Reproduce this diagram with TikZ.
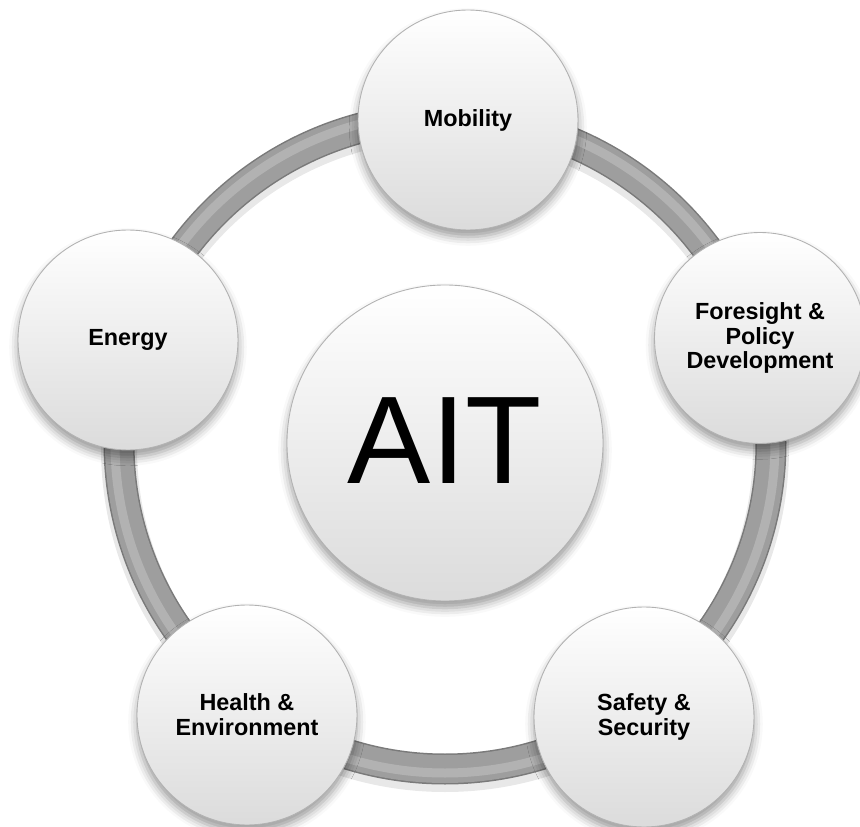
\documentclass[tikz,border=0pt]{standalone}
\usepackage{fontspec}
\setmainfont{Liberation Sans}
\usetikzlibrary{shadows.blur}
\begin{document}
\begin{tikzpicture}[
        bubble/.style={circle, minimum size=4.4cm, inner sep=0pt, align=center,
            draw=black!30, line width=0.5pt,
            top color=white, middle color=white!98!black, bottom color=black!14,
            blur shadow={shadow xshift=0pt, shadow yshift=-4pt, shadow blur radius=5pt, shadow opacity=40},
            font=\bfseries\fontsize{13.3}{14.2}\selectfont},
        hub/.style={bubble, minimum size=6.32cm, font=\fontsize{71}{71}\selectfont}]
                \useasboundingbox (-8.9,-7.68) rectangle (8.3,8.86);
                \coordinate (c) at (0,0);
                \draw [line width=0.72cm, black!9] (0,-0.1) circle (6.52);
                \draw [line width=0.62cm, black!52] (c) circle (6.52);
                \draw [line width=0.56cm, black!38] (c) circle (6.52);
                \draw [line width=0.18cm, black!30] (c) circle (6.6);
                \node [bubble] (mobility) at (0.46,6.46) {Mobility};
                \node [bubble] (energy) at (-6.34,2.06) {Energy};
                \node [bubble, minimum size=4.22cm] (foresight) at (6.3,2.1) {Foresight \&\\Policy\\Development};
                \node [bubble] (health) at (-3.96,-5.44) {Health \&\\Environment};
                \node [bubble] (safety) at (3.98,-5.48) {Safety \&\\Security};
                \node [hub] (ait) at (c) {\raisebox{0.1cm}{AIT}};
            \end{tikzpicture}
\end{document}
